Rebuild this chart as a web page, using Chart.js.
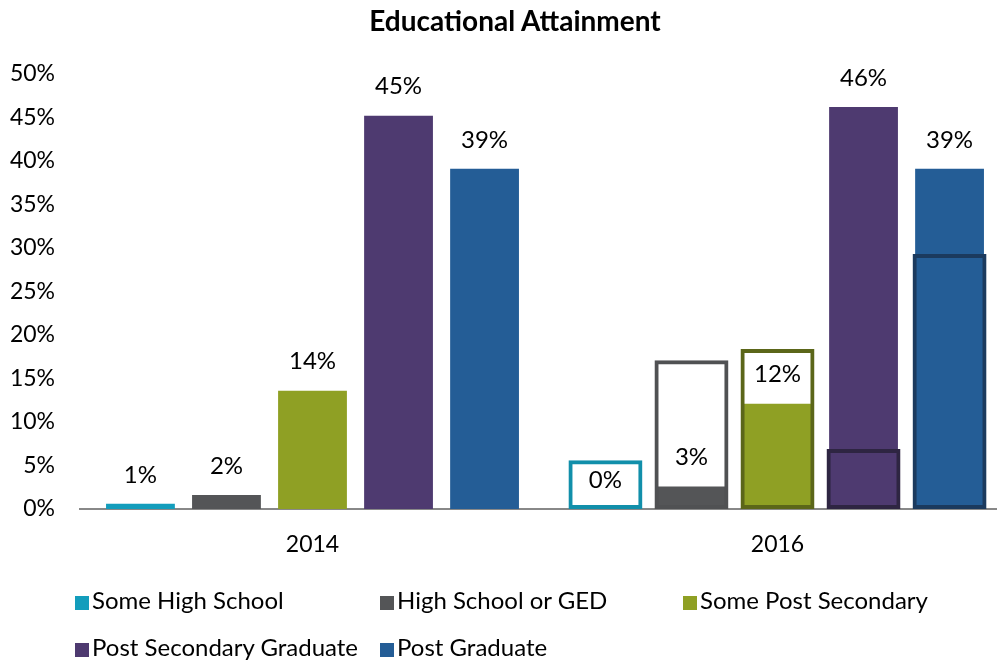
<!DOCTYPE html>
<html><head><meta charset="utf-8">
<script src="https://cdn.jsdelivr.net/npm/chart.js@4/dist/chart.umd.min.js"></script>
<style>
html,body{margin:0;padding:0;background:#fff;overflow:hidden;width:997px;height:663px;}
#wrap{position:absolute;left:0;top:0;width:1010px;height:663px;}
#title{position:absolute;top:3px;left:0;width:1030px;text-align:center;font:bold 28px Lato,"Open Sans",sans-serif;color:#000;}
.lg{position:absolute;font:24px Lato,"Open Sans",sans-serif;color:#000;white-space:nowrap;}
.lg span{display:inline-block;width:14px;height:14px;margin-right:3px;vertical-align:-1px;}
</style></head>
<body>
<div id="wrap"><canvas id="c" width="1010" height="663"></canvas></div>
<div id="title">Educational Attainment</div>
<div id="legend"></div>
<script>
const years = ["2014", "2016"];
const seriesNames = ["Some High School", "High School or GED", "Some Post Secondary", "Post Secondary Graduate", "Post Graduate"];
const someHighSchool = [0.6, 0.0];
const highSchoolGED = [1.6, 2.6];
const somePostSecondary = [13.6, 12.1];
const postSecondaryGrad = [45.2, 46.2];
const postGraduate = [39.1, 39.1];
// outlined 2016 comparison boxes
const outlineSomeHighSchool = [null, 5.6];
const outlineHighSchoolGED = [null, 17.1];
const outlineSomePostSecondary = [null, 18.4];
const outlinePostSecondaryGrad = [null, 6.9];
const outlinePostGraduate = [null, 29.3];
const yTicks = [0, 5, 10, 15, 20, 25, 30, 35, 40, 45, 50];

const fills = ["#139DBC", "#545557", "#8FA024", "#4E3A70", "#245D96"];
const strokes = ["#118FAA", "#505153", "#5B6619", "#2E2542", "#1B3A5E"];
const values = [someHighSchool, highSchoolGED, somePostSecondary, postSecondaryGrad, postGraduate];
const outlines = [outlineSomeHighSchool, outlineHighSchoolGED, outlineSomePostSecondary, outlinePostSecondaryGrad, outlinePostGraduate];

const datasets = [];
values.forEach((v, i) => datasets.push({
  label: seriesNames[i], data: v, backgroundColor: fills[i], borderWidth: 0,
  stack: 's' + i, order: 1, categoryPercentage: 0.925, barPercentage: 0.8, isMain: true
}));
outlines.forEach((v, i) => datasets.push({
  label: seriesNames[i] + ' outline', data: v, backgroundColor: 'rgba(0,0,0,0)', borderColor: strokes[i], borderWidth: 4,
  borderSkipped: false, stack: 's' + i, order: 0, categoryPercentage: 0.925, barPercentage: 0.86
}));

const labelPlugin = {
  id: 'vlabels',
  afterDatasetsDraw(chart) {
    const ctx = chart.ctx;
    ctx.save();
    ctx.font = '24px Lato, "Open Sans", sans-serif';
    ctx.fillStyle = '#000';
    ctx.textAlign = 'center';
    ctx.textBaseline = 'middle';
    chart.data.datasets.forEach((ds, di) => {
      if (!ds.isMain) return;
      const meta = chart.getDatasetMeta(di);
      meta.data.forEach((el, j) => {
        const v = ds.data[j];
        if (v === null) return;
        ctx.fillText(Math.round(v) + '%', el.x, el.y - 29);
      });
    });
    ctx.restore();
  }
};

new Chart(document.getElementById('c'), {
  type: 'bar',
  data: { labels: years, datasets },
  options: {
    responsive: false, animation: false,
    layout: { padding: { top: 74, bottom: 0, left: 0, right: 0 } },
    plugins: { legend: { display: false }, tooltip: { enabled: false }, title: { display: false } },
    scales: {
      x: {
        stacked: true,
        grid: { display: false, drawTicks: false },
        border: { display: true, color: '#888888', width: 2 },
        ticks: { color: '#000', font: { family: 'Lato, "Open Sans", sans-serif', size: 23 }, padding: 22 },
        afterFit(s) { s.height = 154; }
      },
      y: {
        stacked: false,
        min: 0, max: 50,
        afterBuildTicks(s) { s.ticks = yTicks.map(v => ({ value: v })); },
        grid: { display: false, drawTicks: false },
        border: { display: false },
        ticks: { color: '#000', font: { family: 'Lato, "Open Sans", sans-serif', size: 23 }, padding: 25, callback: v => v + '%' },
        afterFit(s) { s.width = 80; }
      }
    }
  },
  plugins: [labelPlugin]
});

const pos = [[75, 600], [380, 600], [683, 600], [75, 647], [380, 647]];
const lg = document.getElementById('legend');
seriesNames.forEach((n, i) => {
  const d = document.createElement('div');
  d.className = 'lg';
  d.style.left = pos[i][0] + 'px';
  d.style.top = (pos[i][1] - 15) + 'px';
  d.innerHTML = '<span style="background:' + fills[i] + '"></span>' + n;
  lg.appendChild(d);
});
</script>
</body></html>
